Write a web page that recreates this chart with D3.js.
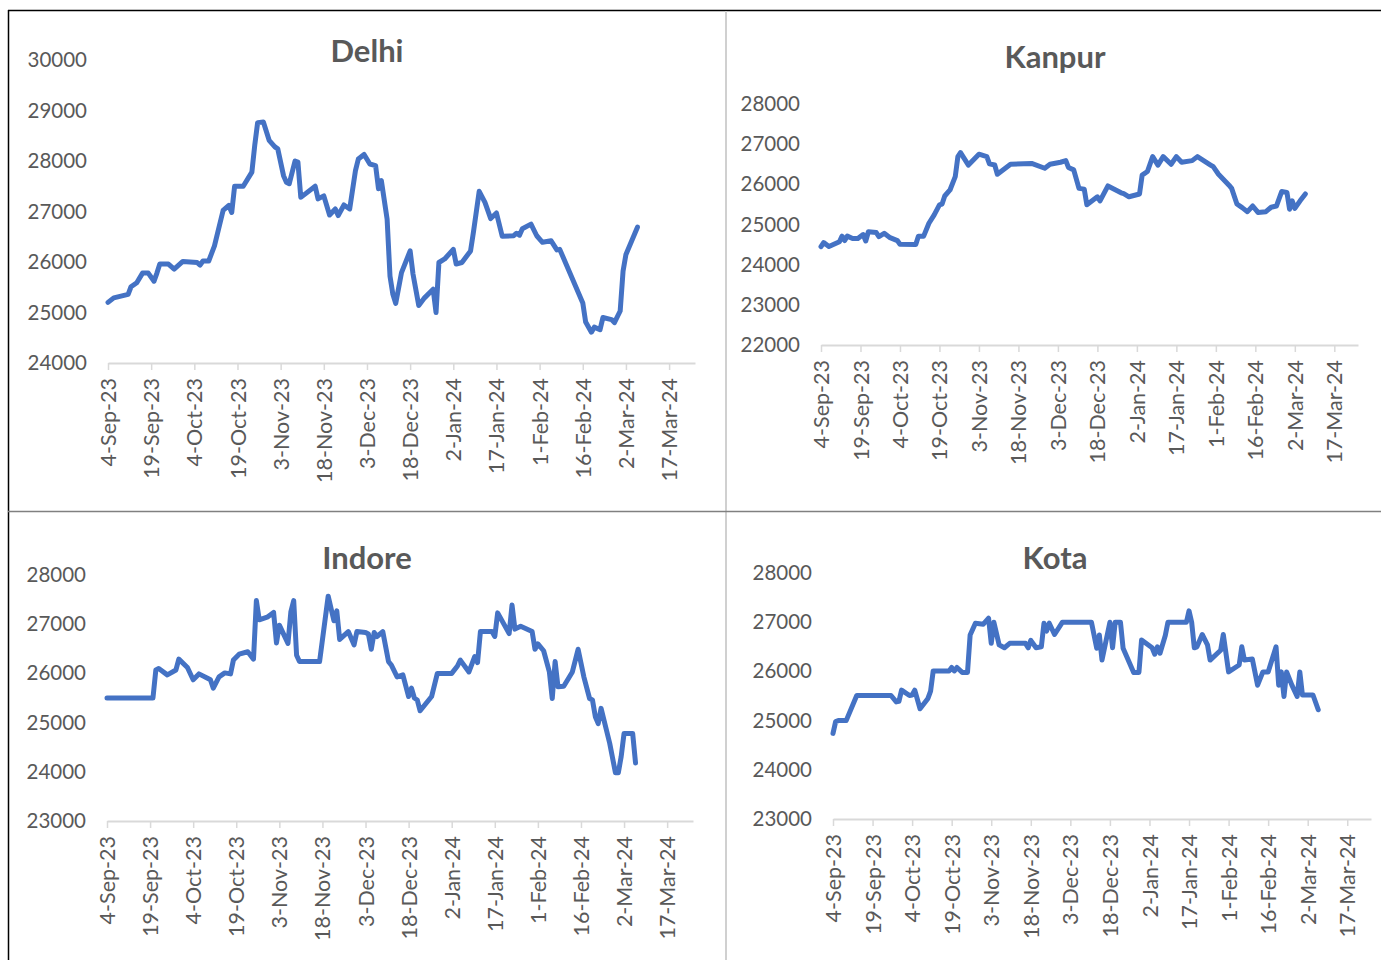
<!DOCTYPE html>
<html>
<head>
<meta charset="utf-8">
<script src="https://cdn.jsdelivr.net/npm/d3@7"></script>
<style>
  body { margin: 0; background: #fff; }
  svg text { font-family: Lato, "Liberation Sans", Arial, sans-serif; }
</style>
</head>
<body>
<svg id="chart" width="1381" height="960"></svg>
<script>
const parseDay = d3.timeParse("%d-%b-%y");

// x axis categories (15-day steps)
const xTickLabels = ["4-Sep-23", "19-Sep-23", "4-Oct-23", "19-Oct-23", "3-Nov-23", "18-Nov-23", "3-Dec-23",
  "18-Dec-23", "2-Jan-24", "17-Jan-24", "1-Feb-24", "16-Feb-24", "2-Mar-24", "17-Mar-24"];
const xStart = "4-Sep-23", xEnd = "26-Mar-24";

const delhiTicks = [24000, 25000, 26000, 27000, 28000, 29000, 30000];
const kanpurTicks = [22000, 23000, 24000, 25000, 26000, 27000, 28000];
const indoreTicks = [23000, 24000, 25000, 26000, 27000, 28000];
const kotaTicks = [23000, 24000, 25000, 26000, 27000, 28000];

const delhi = [["4-Sep-23",25200],["6-Sep-23",25290],["11-Sep-23",25360],["12-Sep-23",25510],["14-Sep-23",25590],["16-Sep-23",25780],["18-Sep-23",25780],["20-Sep-23",25620],["21-Sep-23",25780],["22-Sep-23",25960],["25-Sep-23",25960],["27-Sep-23",25860],["30-Sep-23",26010],["5-Oct-23",25990],["6-Oct-23",25940],["7-Oct-23",26020],["9-Oct-23",26020],["11-Oct-23",26320],["14-Oct-23",27020],["16-Oct-23",27120],["17-Oct-23",26980],["18-Oct-23",27500],["21-Oct-23",27500],["24-Oct-23",27780],["25-Oct-23",28310],["26-Oct-23",28760],["28-Oct-23",28770],["30-Oct-23",28410],["1-Nov-23",28280],["2-Nov-23",28240],["4-Nov-23",27710],["5-Nov-23",27580],["6-Nov-23",27550],["8-Nov-23",28000],["9-Nov-23",27980],["10-Nov-23",27280],["15-Nov-23",27500],["16-Nov-23",27250],["18-Nov-23",27310],["20-Nov-23",26930],["22-Nov-23",27050],["23-Nov-23",26920],["25-Nov-23",27130],["27-Nov-23",27050],["29-Nov-23",27810],["30-Nov-23",28040],["2-Dec-23",28130],["4-Dec-23",27940],["6-Dec-23",27910],["7-Dec-23",27450],["8-Dec-23",27610],["10-Dec-23",26850],["11-Dec-23",25720],["12-Dec-23",25360],["13-Dec-23",25180],["15-Dec-23",25790],["18-Dec-23",26220],["19-Dec-23",25760],["21-Dec-23",25140],["23-Dec-23",25290],["26-Dec-23",25460],["27-Dec-23",25000],["28-Dec-23",25990],["30-Dec-23",26060],["2-Jan-24",26250],["3-Jan-24",25960],["5-Jan-24",25990],["8-Jan-24",26220],["9-Jan-24",26590],["11-Jan-24",27400],["13-Jan-24",27180],["15-Jan-24",26860],["17-Jan-24",26970],["19-Jan-24",26510],["23-Jan-24",26520],["24-Jan-24",26570],["25-Jan-24",26530],["26-Jan-24",26660],["29-Jan-24",26750],["31-Jan-24",26520],["2-Feb-24",26390],["5-Feb-24",26420],["7-Feb-24",26240],["8-Feb-24",26250],["16-Feb-24",25190],["17-Feb-24",24810],["19-Feb-24",24610],["20-Feb-24",24710],["22-Feb-24",24660],["23-Feb-24",24900],["26-Feb-24",24860],["27-Feb-24",24800],["29-Feb-24",25030],["1-Mar-24",25820],["2-Mar-24",26150],["6-Mar-24",26690]];

const kanpur = [["4-Sep-23",24450],["5-Sep-23",24550],["7-Sep-23",24450],["11-Sep-23",24570],["12-Sep-23",24710],["13-Sep-23",24600],["14-Sep-23",24710],["16-Sep-23",24650],["18-Sep-23",24650],["20-Sep-23",24750],["21-Sep-23",24590],["22-Sep-23",24820],["25-Sep-23",24800],["26-Sep-23",24700],["28-Sep-23",24780],["30-Sep-23",24680],["3-Oct-23",24600],["4-Oct-23",24510],["10-Oct-23",24500],["11-Oct-23",24710],["13-Oct-23",24710],["15-Oct-23",25030],["17-Oct-23",25240],["19-Oct-23",25490],["20-Oct-23",25510],["21-Oct-23",25710],["23-Oct-23",25860],["25-Oct-23",26190],["26-Oct-23",26690],["27-Oct-23",26790],["30-Oct-23",26480],["3-Nov-23",26750],["6-Nov-23",26690],["7-Nov-23",26510],["9-Nov-23",26480],["10-Nov-23",26250],["15-Nov-23",26500],["23-Nov-23",26520],["28-Nov-23",26400],["30-Nov-23",26500],["4-Dec-23",26550],["6-Dec-23",26590],["7-Dec-23",26420],["9-Dec-23",26360],["11-Dec-23",25900],["13-Dec-23",25880],["14-Dec-23",25490],["18-Dec-23",25690],["19-Dec-23",25590],["22-Dec-23",25960],["27-Dec-23",25790],["28-Dec-23",25770],["30-Dec-23",25690],["3-Jan-24",25760],["4-Jan-24",26230],["6-Jan-24",26320],["8-Jan-24",26690],["10-Jan-24",26480],["12-Jan-24",26690],["15-Jan-24",26500],["17-Jan-24",26690],["19-Jan-24",26550],["23-Jan-24",26590],["25-Jan-24",26690],["30-Jan-24",26480],["31-Jan-24",26440],["2-Feb-24",26250],["6-Feb-24",25980],["7-Feb-24",25900],["9-Feb-24",25510],["11-Feb-24",25420],["13-Feb-24",25320],["15-Feb-24",25460],["17-Feb-24",25300],["20-Feb-24",25320],["22-Feb-24",25430],["24-Feb-24",25460],["26-Feb-24",25820],["28-Feb-24",25800],["29-Feb-24",25380],["1-Mar-24",25590],["2-Mar-24",25400],["4-Mar-24",25590],["6-Mar-24",25760]];

const indore = [["4-Sep-23",25500],["20-Sep-23",25500],["21-Sep-23",26070],["22-Sep-23",26100],["25-Sep-23",25970],["28-Sep-23",26070],["29-Sep-23",26290],["2-Oct-23",26120],["4-Oct-23",25870],["6-Oct-23",25990],["9-Oct-23",25900],["10-Oct-23",25870],["11-Oct-23",25700],["13-Oct-23",25930],["15-Oct-23",26010],["17-Oct-23",25990],["18-Oct-23",26270],["20-Oct-23",26390],["23-Oct-23",26440],["25-Oct-23",26290],["26-Oct-23",27480],["27-Oct-23",27090],["30-Oct-23",27150],["1-Nov-23",27240],["2-Nov-23",26620],["3-Nov-23",26980],["6-Nov-23",26610],["7-Nov-23",27250],["8-Nov-23",27480],["9-Nov-23",26370],["10-Nov-23",26240],["17-Nov-23",26240],["20-Nov-23",27570],["22-Nov-23",27070],["23-Nov-23",27270],["24-Nov-23",26690],["27-Nov-23",26850],["29-Nov-23",26580],["30-Nov-23",26850],["3-Dec-23",26830],["4-Dec-23",26800],["5-Dec-23",26490],["6-Dec-23",26830],["7-Dec-23",26750],["9-Dec-23",26850],["11-Dec-23",26240],["12-Dec-23",26170],["14-Dec-23",25930],["16-Dec-23",25970],["18-Dec-23",25530],["19-Dec-23",25700],["20-Dec-23",25500],["21-Dec-23",25460],["22-Dec-23",25240],["26-Dec-23",25530],["28-Dec-23",26000],["2-Jan-24",26000],["4-Jan-24",26150],["5-Jan-24",26270],["8-Jan-24",26030],["10-Jan-24",26340],["11-Jan-24",26220],["12-Jan-24",26850],["16-Jan-24",26850],["17-Jan-24",26750],["18-Jan-24",27230],["22-Jan-24",26810],["23-Jan-24",27390],["24-Jan-24",26900],["26-Jan-24",26960],["30-Jan-24",26850],["31-Jan-24",26490],["1-Feb-24",26600],["3-Feb-24",26460],["5-Feb-24",26030],["6-Feb-24",25490],["7-Feb-24",26240],["8-Feb-24",25730],["10-Feb-24",25740],["13-Feb-24",26030],["15-Feb-24",26490],["17-Feb-24",25930],["19-Feb-24",25490],["20-Feb-24",25460],["21-Feb-24",25120],["22-Feb-24",24980],["23-Feb-24",25290],["26-Feb-24",24580],["28-Feb-24",23980],["29-Feb-24",23980],["1-Mar-24",24310],["2-Mar-24",24780],["5-Mar-24",24780],["6-Mar-24",24180]];

const kota = [["4-Sep-23",24740],["5-Sep-23",24980],["6-Sep-23",25000],["9-Sep-23",25000],["13-Sep-23",25510],["26-Sep-23",25510],["28-Sep-23",25380],["29-Sep-23",25390],["30-Sep-23",25620],["3-Oct-23",25510],["4-Oct-23",25520],["5-Oct-23",25620],["7-Oct-23",25240],["10-Oct-23",25450],["11-Oct-23",25600],["12-Oct-23",26010],["18-Oct-23",26010],["19-Oct-23",26080],["20-Oct-23",26010],["21-Oct-23",26080],["23-Oct-23",25980],["25-Oct-23",25980],["26-Oct-23",26740],["28-Oct-23",26980],["31-Oct-23",26960],["2-Nov-23",27080],["3-Nov-23",26570],["4-Nov-23",27000],["6-Nov-23",26540],["8-Nov-23",26480],["10-Nov-23",26570],["16-Nov-23",26570],["17-Nov-23",26480],["18-Nov-23",26630],["20-Nov-23",26480],["22-Nov-23",26500],["23-Nov-23",26980],["24-Nov-23",26820],["25-Nov-23",26980],["27-Nov-23",26750],["30-Nov-23",27000],["11-Dec-23",27000],["13-Dec-23",26470],["14-Dec-23",26740],["15-Dec-23",26230],["18-Dec-23",27000],["19-Dec-23",26480],["20-Dec-23",27000],["22-Dec-23",27000],["23-Dec-23",26470],["27-Dec-23",25980],["29-Dec-23",25980],["30-Dec-23",26640],["3-Jan-24",26480],["4-Jan-24",26350],["5-Jan-24",26500],["6-Jan-24",26370],["8-Jan-24",26730],["9-Jan-24",27000],["16-Jan-24",27000],["17-Jan-24",27230],["18-Jan-24",27000],["19-Jan-24",26480],["20-Jan-24",26500],["22-Jan-24",26750],["24-Jan-24",26540],["25-Jan-24",26230],["29-Jan-24",26430],["30-Jan-24",26750],["1-Feb-24",25990],["5-Feb-24",26130],["6-Feb-24",26500],["7-Feb-24",26230],["10-Feb-24",26250],["12-Feb-24",25720],["14-Feb-24",25990],["16-Feb-24",25990],["19-Feb-24",26500],["20-Feb-24",25720],["21-Feb-24",25990],["22-Feb-24",25490],["23-Feb-24",25990],["25-Feb-24",25720],["27-Feb-24",25490],["28-Feb-24",25990],["29-Feb-24",25520],["4-Mar-24",25520],["6-Mar-24",25220]];

const lineColor = "#4472C4", textColor = "#595959", axisColor = "#d9d9d9";

const svg = d3.select("#chart");

// frame lines between the four charts
svg.append("line").attr("x1", 8).attr("x2", 1381).attr("y1", 10.5).attr("y2", 10.5).attr("stroke", "#000").attr("stroke-width", 1.5);
svg.append("line").attr("x1", 8.5).attr("x2", 8.5).attr("y1", 10).attr("y2", 960).attr("stroke", "#000").attr("stroke-width", 1.5);
svg.append("line").attr("x1", 726).attr("x2", 726).attr("y1", 11).attr("y2", 960).attr("stroke", "#d0d0d0").attr("stroke-width", 2);
svg.append("line").attr("x1", 8).attr("x2", 1381).attr("y1", 511.5).attr("y2", 511.5).attr("stroke", "#808080").attr("stroke-width", 1.5);

const panels = [
  { title: "Delhi", data: delhi, ticks: delhiTicks, left: 108, right: 695, top: 60, bottom: 363, titleX: 367, titleY: 62 },
  { title: "Kanpur", data: kanpur, ticks: kanpurTicks, left: 821, right: 1358, top: 104, bottom: 345, titleX: 1055, titleY: 68 },
  { title: "Indore", data: indore, ticks: indoreTicks, left: 107, right: 693, top: 575, bottom: 821, titleX: 367, titleY: 569 },
  { title: "Kota", data: kota, ticks: kotaTicks, left: 833, right: 1371, top: 573, bottom: 819, titleX: 1055, titleY: 569 }
];

const dibujarPanel = p => {
  const x = d3.scaleTime()
    .domain([parseDay(xStart), parseDay(xEnd)])
    .range([p.left, p.right]);
  const y = d3.scaleLinear()
    .domain(d3.extent(p.ticks))
    .range([p.bottom, p.top]);

  const g = svg.append("g");

  g.append("text")
    .attr("x", p.titleX)
    .attr("y", p.titleY)
    .attr("text-anchor", "middle")
    .attr("fill", textColor)
    .attr("font-size", 31)
    .attr("font-weight", "bold")
    .text(p.title);

  // y labels only, no axis line
  const ejeY = g.append("g")
    .attr("transform", `translate(${p.left},0)`)
    .call(d3.axisLeft(y).tickValues(p.ticks).tickSize(0).tickPadding(21).tickFormat(d3.format("d")));
  ejeY.select(".domain").remove();
  ejeY.selectAll("text").attr("fill", textColor).attr("font-size", 20.5)
    .style("font-family", "Lato, 'Liberation Sans', Arial, sans-serif");

  const ejeX = g.append("g")
    .attr("transform", `translate(0,${p.bottom})`)
    .call(d3.axisBottom(x)
      .tickValues(xTickLabels.map(parseDay))
      .tickFormat((d, i) => xTickLabels[i])
      .tickSize(7)
      .tickSizeOuter(0));
  ejeX.select(".domain").attr("stroke", axisColor).attr("stroke-width", 2);
  ejeX.selectAll(".tick line").attr("stroke", axisColor).attr("stroke-width", 1.5);
  ejeX.selectAll("text")
    .attr("fill", textColor)
    .attr("font-size", 21.5)
    .style("font-family", "Lato, 'Liberation Sans', Arial, sans-serif")
    .attr("text-anchor", "end")
    .attr("transform", "rotate(-90)")
    .attr("x", -15)
    .attr("y", 0)
    .attr("dy", "0.35em");

  const linea = d3.line()
    .x(d => x(parseDay(d[0])))
    .y(d => y(d[1]));

  g.append("path")
    .datum(p.data)
    .attr("d", linea)
    .attr("fill", "none")
    .attr("stroke", lineColor)
    .attr("stroke-width", 5)
    .attr("stroke-linejoin", "round")
    .attr("stroke-linecap", "round");
};

panels.forEach(dibujarPanel);
</script>
</body>
</html>
